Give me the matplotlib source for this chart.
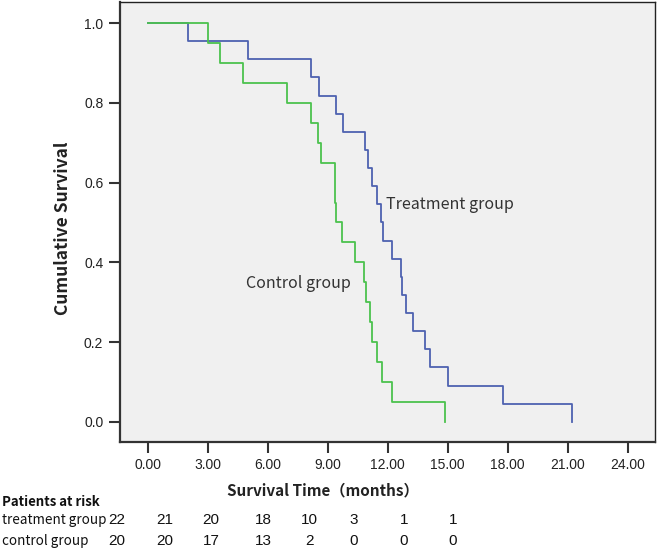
import numpy as np
import matplotlib
matplotlib.use("Agg")
import matplotlib.pyplot as plt

# event times (months)
treat_times = [2.0, 5.0, 8.15, 8.57, 9.41, 9.75, 10.85, 11.0, 11.21, 11.46, 11.65,
               11.78, 12.2, 12.68, 12.73, 12.9, 13.28, 13.85, 14.1, 15.0, 17.75, 21.2]
ctrl_times = [3.03, 3.63, 4.75, 6.95, 8.15, 8.5, 8.65, 9.37, 9.37, 9.42, 9.7,
              10.35, 10.83, 10.9, 11.1, 11.2, 11.48, 11.7, 12.2, 14.85]

xticks = [0, 3, 6, 9, 12, 15, 18, 21, 24]
yticks = [0.0, 0.2, 0.4, 0.6, 0.8, 1.0]

risk_treat = [22, 21, 20, 18, 10, 3, 1, 1]
risk_ctrl = [20, 20, 17, 13, 2, 0, 0, 0]
risk_x = [117, 165, 211, 263, 309, 354, 404, 453]  # pixel centres of the table columns

BLUE = "#4E62B0"
GREEN = "#4CC24E"
CJK = ["Noto Sans CJK SC", "DejaVu Sans"]
NARROW = ["Liberation Sans Narrow", "Liberation Sans", "DejaVu Sans"]


def km_steps(times, start=0.0):
    t = np.sort(np.asarray(times, dtype=float))
    n = len(t)
    surv = (n - np.arange(1, n + 1)) / n
    xs = np.concatenate([[start], t])
    ys = np.concatenate([[1.0], surv])
    return xs, ys


W, H = 657, 558
fig = plt.figure(figsize=(W / 100, H / 100), dpi=100)
ax = fig.add_axes([120 / W, 1 - 441.7 / H, (655 - 120) / W, (441.7 - 2) / H])
ax.set_facecolor("#F0F0F0")

xs, ys = km_steps(treat_times)
ax.step(xs, ys, where="post", color=BLUE, lw=1.3)
xs, ys = km_steps(ctrl_times)
ax.step(xs, ys, where="post", color=GREEN, lw=1.3)

ax.set_xlim(-1.385, 25.37)
ax.set_ylim(-0.05, 1.053)
ax.set_xticks(xticks)
ax.set_xticklabels(["%.2f" % v for v in xticks])
ax.set_yticks(yticks)
ax.set_yticklabels(["%.1f" % v for v in yticks])
ax.tick_params(direction="out", length=8, width=1.5, color="#333333",
               labelcolor="#222222", labelsize=10, pad=4)
for lab in ax.get_xticklabels() + ax.get_yticklabels():
    lab.set_family("Liberation Sans")
for side in ["left", "bottom"]:
    ax.spines[side].set_linewidth(1.6)
    ax.spines[side].set_color("#333333")
for side in ["top", "right"]:
    ax.spines[side].set_linewidth(1.0)
    ax.spines[side].set_color("#222222")

ax.text(11.9, 0.545, "Treatment group", fontsize=11.5, family=CJK, color="#333333",
        va="center", ha="left")
ax.text(4.9, 0.348, "Control group", fontsize=11.5, family=CJK, color="#333333",
        va="center", ha="left")

fig.text(63 / W, 1 - 228 / H, "Cumulative Survival", rotation=90, fontsize=12.5,
         family=CJK, weight="bold", color="#222222", ha="center", va="center")
fig.text(323 / W, 1 - 490 / H, "Survival Time（months）", fontsize=11,
         family=CJK, weight="bold", color="#222222", ha="center", va="center")
fig.text(2 / W, 1 - 502 / H, "Patients at risk", fontsize=9.5, family=CJK,
         weight="bold", color="#111111", ha="left", va="center")
fig.text(2 / W, 1 - 520 / H, "treatment group", fontsize=9.7, family=CJK,
         color="#111111", ha="left", va="center")
fig.text(2 / W, 1 - 541 / H, "control group", fontsize=9.7, family=CJK,
         color="#111111", ha="left", va="center")
for px, a, b in zip(risk_x, risk_treat, risk_ctrl):
    fig.text(px / W, 1 - 520 / H, str(a), fontsize=11, family=NARROW,
             color="#111111", ha="center", va="center")
    fig.text(px / W, 1 - 541 / H, str(b), fontsize=11, family=NARROW,
             color="#111111", ha="center", va="center")

fig.savefig("out.png", dpi=100)
